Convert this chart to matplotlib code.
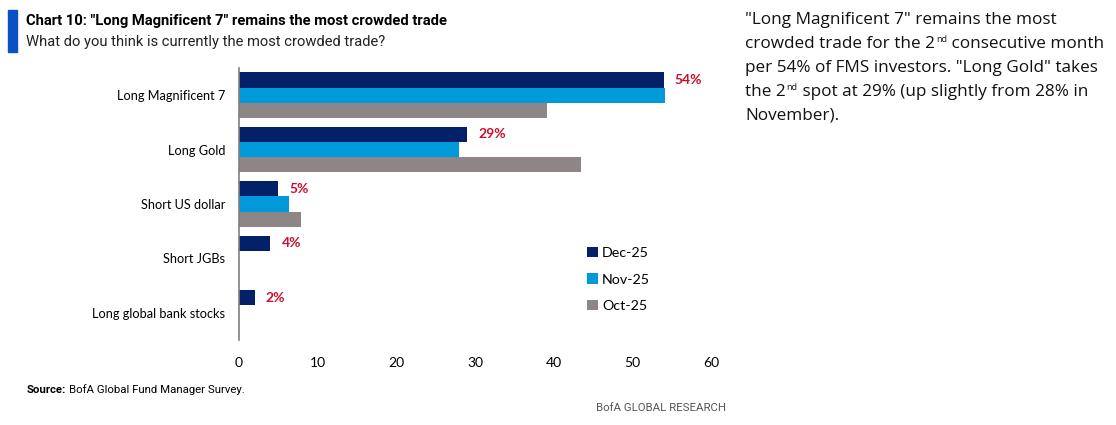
import numpy as np
import matplotlib
matplotlib.use('Agg')
import matplotlib.pyplot as plt
import matplotlib.patches as patches
from matplotlib import font_manager

# data
categories = ['Long Magnificent 7', 'Long Gold', 'Short US dollar', 'Short JGBs', 'Long global bank stocks']
series_names = ['Dec-25', 'Nov-25', 'Oct-25']
dec_25 = [54, 29, 5, 4, 2]
nov_25 = [54.2, 28, 6.4, None, None]
oct_25 = [39.2, 43.5, 7.9, None, None]
dec_labels = ['54%', '29%', '5%', '4%', '2%']
x_ticks = [0, 10, 20, 30, 40, 50, 60]

colors = ['#022169', '#009ADA', '#8E8686']
label_red = '#C8102E'

names = {f.name for f in font_manager.fontManager.ttflist}
narrow = 'Liberation Sans Narrow' if 'Liberation Sans Narrow' in names else 'Roboto'
chart_font = 'Lato'
body_font = 'Open Sans'

W, H = 1116, 425
fig = plt.figure(figsize=(W / 100, H / 100), dpi=100)


def fx(px):
    return px / W


def fy(py):
    return 1 - py / H


ax = fig.add_axes([fx(239), fy(340), fx(711) - fx(239), (340 - 68) / H])

y = np.arange(len(categories))
bar_h = 0.28
offsets = [-bar_h, 0, bar_h]
for vals, off, col, name in zip([dec_25, nov_25, oct_25], offsets, colors, series_names):
    ys = [yy + off for yy, v in zip(y, vals) if v is not None]
    vs = [v for v in vals if v is not None]
    ax.barh(ys, vs, height=bar_h, color=col, label=name)

# red value labels on the Dec bars
for yy, v, lab in zip(y, dec_25, dec_labels):
    ax.annotate(lab, (v, yy - bar_h), xytext=(8, 0), textcoords='offset points',
                ha='left', va='center', color=label_red, fontsize=10,
                fontweight='bold', family=chart_font)

ax.set_xlim(0, 60)
ax.set_ylim(len(categories) - 0.5, -0.5)
ax.set_xticks(x_ticks)
ax.set_xticklabels([str(t) for t in x_ticks], family=chart_font, fontsize=10)
ax.set_yticks(y)
ax.set_yticklabels(categories, family=chart_font, fontsize=9.2)
ax.tick_params(axis='x', length=0, pad=12)
ax.tick_params(axis='y', length=0, pad=10)
for s in ['top', 'right', 'bottom']:
    ax.spines[s].set_visible(False)
ax.spines['left'].set_color('#7F7F7F')
ax.spines['left'].set_linewidth(1.2)

leg = ax.legend(loc='upper left', bbox_to_anchor=(0.71, 0.39), frameon=False,
                handlelength=0.75, handleheight=0.75, handletextpad=0.3,
                labelspacing=1.0, prop={'family': chart_font, 'size': 10.3})

# title block
fig.patches.append(patches.Rectangle((fx(8), fy(52)), fx(9), (52 - 10) / H,
                                     transform=fig.transFigure, color='#0A52C4'))
fig.text(fx(26), fy(21), 'Chart 10: "Long Magnificent 7" remains the most crowded trade',
         family=narrow, fontweight='bold', fontsize=10.6, va='center', ha='left')
fig.text(fx(26), fy(42), 'What do you think is currently the most crowded trade?',
         family=narrow, fontsize=10.6, va='center', ha='left', color='#222222')

# source + branding
fig.canvas.draw()
renderer = fig.canvas.get_renderer()
t = fig.text(fx(27), fy(390), 'Source:', family=narrow, fontweight='bold',
             fontsize=8.2, va='center', ha='left')
bb = t.get_window_extent(renderer)
fig.text(bb.x1 / W + fx(3), fy(390), 'BofA Global Fund Manager Survey.', family=narrow,
         fontsize=8.2, va='center', ha='left')
fig.text(fx(726), fy(408), 'BofA GLOBAL RESEARCH', family=narrow, fontsize=8.2,
         va='center', ha='right', color='#555555')

# commentary text on the right, with superscripts
body_lines = [
    [('"Long Magnificent 7" remains the most', False)],
    [('crowded trade for the 2', False), ('nd', True), (' consecutive month', False)],
    [('per 54% of FMS investors. "Long Gold" takes', False)],
    [('the 2', False), ('nd', True), (' spot at 29% (up slightly from 28% in', False)],
    [('November).', False)],
]
line_y = [20, 44, 68, 92, 116]
for parts, ly in zip(body_lines, line_y):
    xpix = 745
    for txt, sup in parts:
        if sup:
            tt = fig.text(fx(xpix + 1), fy(ly - 5), txt, family=body_font, fontsize=6.5,
                          va='center', ha='left', color='#111111')
        else:
            tt = fig.text(fx(xpix), fy(ly), txt, family=body_font, fontsize=12.3,
                          va='center', ha='left', color='#111111')
        xpix = tt.get_window_extent(renderer).x1

fig.savefig('out.png', dpi=100)
